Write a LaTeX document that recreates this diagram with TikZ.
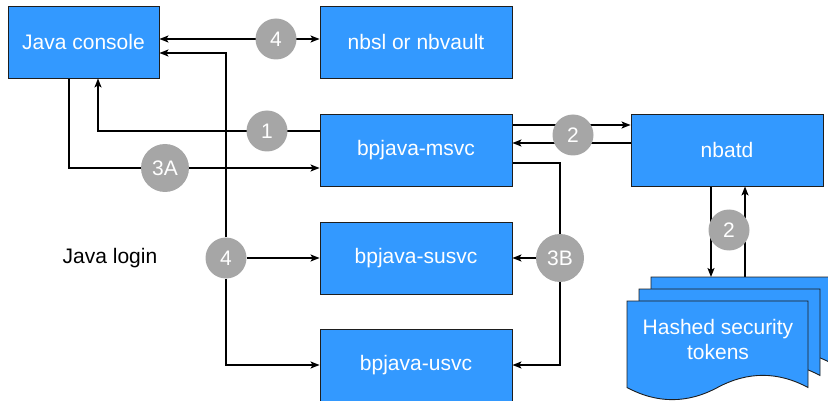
\documentclass[tikz,border=0pt]{standalone}
\usepackage{fontspec}
\setmainfont{Liberation Sans}
\usetikzlibrary{arrows.meta,backgrounds,calc}
\definecolor{boxblue}{RGB}{51,153,255}
\definecolor{circgray}{RGB}{166,166,166}
\definecolor{edgedark}{RGB}{30,30,30}
\newcommand\tokdoc[1]{\begin{scope}[shift={#1}]
  \draw[docst] (0,0) -- (181,0) -- (181,86.5)
    .. controls (150.8,70.3) and (120.7,70.3) .. (90.5,86.5)
    .. controls (60.3,102.7) and (30.2,102.7) .. (0,86.5) -- cycle;
  \end{scope}}
\begin{document}
\begin{tikzpicture}[x=1pt,y=-1pt,
  lbl/.style={font=\fontsize{21}{25}\selectfont},
  svc/.style={lbl, draw=edgedark, line width=0.9pt, fill=boxblue, text=white,
    minimum width=192pt, minimum height=72pt, inner sep=0pt},
  docst/.style={draw=edgedark, line width=0.9pt, fill=boxblue},
  num/.style={lbl, circle, fill=circgray, text=white, minimum size=41pt, inner sep=0pt},
  bignum/.style={num, minimum size=48pt},
  tip/.tip={Stealth[length=9pt,width=7pt,inset=2pt]},
  arr/.style={line width=1.4pt, -tip},
  biarr/.style={line width=1.4pt, tip-tip}]
\useasboundingbox (0,0) rectangle (828,401);
\clip (0,0) rectangle (828,401);

\node[svc, minimum width=151pt] (jc) at (83.5,42) {Java console};
\node[svc] (nbsl) at (416,42) {nbsl or nbvault};
\node[svc] (msvc) at (416,150) {bpjava-msvc};
\node[svc] (nbatd) at (727,150) {nbatd};
\node[svc] (susvc) at (416,258) {bpjava-susvc};
\node[svc] (usvc) at (416,365) {bpjava-usvc};
\node[lbl, text=black] (login) at (110,258) {Java login};

\tokdoc{(651,277)}
\tokdoc{(639,289)}
\tokdoc{(627,301)}
\coordinate (doctop) at (700,277);
\node[lbl, text=white, align=center, inner sep=0pt] (tok) at (718,339) {Hashed security\\tokens};

\node[num] (c4a) at (276,39) {4};
\node[num] (c1) at (267,131) {1};
\node[bignum] (c3a) at (165,168) {3A};
\node[num] (c2a) at (573,135) {2};
\node[bignum] (c3b) at (560,258) {3B};
\node[num] (c2b) at (729,230) {2};
\node[num] (c4b) at (226,258) {4};

\begin{scope}[on background layer]
\draw[biarr] (jc.east |- c4a) -- (nbsl.west |- c4a);
\draw[arr] (c4b) |- ([yshift=-11pt]jc.east);
\draw[arr] (c4b) |- (usvc.west);
\draw[arr] (c4b) -- (susvc.west);
\draw[arr] ([yshift=19pt]msvc.west) -| ([xshift=14.5pt]jc.south);
\draw[arr] ([xshift=-14.5pt]jc.south) |- ([yshift=-18pt]msvc.west);
\draw[arr] ([yshift=25pt]msvc.east) -- ([yshift=25pt]nbatd.west);
\draw[arr] ([yshift=7pt]nbatd.west) -- ([yshift=7pt]msvc.east);
\draw[arr] ([yshift=-13pt]msvc.east) -| (c3b) |- (usvc.east);
\draw[arr] (c3b) -- (susvc.east);
\draw[arr] ([xshift=-16pt]nbatd.south) -- ([xshift=-16pt]nbatd.south |- doctop);
\draw[arr] ([xshift=18pt]nbatd.south |- doctop) -- ([xshift=18pt]nbatd.south);
\end{scope}
\end{tikzpicture}
\end{document}
